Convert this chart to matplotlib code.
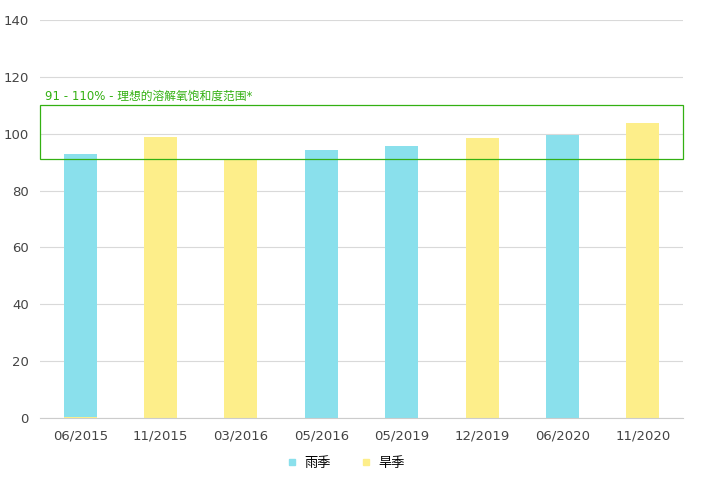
import numpy as np
import matplotlib
matplotlib.use("Agg")
import matplotlib.pyplot as plt
from matplotlib.patches import Rectangle
from matplotlib.lines import Line2D

plt.rcParams['font.family'] = ['DejaVu Sans', 'Noto Sans CJK SC']

# 数据
dates = ["06/2015", "11/2015", "03/2016", "05/2016", "05/2019", "12/2019", "06/2020", "11/2020"]
rainy = [93, 0, 0, 94.3, 95.7, 0, 99.6, 0]
dry = [0.4, 98.8, 91, 0, 0, 98.5, 0, 103.8]
range_low = 91
range_high = 110
range_label = "91 - 110% - 理想的溶解氧饱和度范围*"
series_names = ["雨季", "旱季"]

c_rain = "#8ae0ec"
c_dry = "#fdee8a"
c_green = "#33b012"

fig = plt.figure(figsize=(7.02, 4.98), dpi=100)
ax = fig.add_axes([40 / 702, 80 / 498, 643 / 702, 398 / 498])

x = np.arange(len(dates))
ax.bar(x, rainy, width=0.41, color=c_rain, zorder=2)
ax.bar(x, dry, width=0.41, color=c_dry, zorder=2.1)

ax.set_xlim(-0.5, len(dates) - 0.5)
ax.set_ylim(0, 140)
ax.set_yticks(np.arange(0, 141, 20))
ax.set_xticks(x)
ax.set_xticklabels(dates)
ax.grid(axis="y", color="#d9d9d9", linewidth=0.8, zorder=0)
ax.set_axisbelow(True)
for s in ["top", "right", "left"]:
    ax.spines[s].set_visible(False)
ax.spines["bottom"].set_color("#cccccc")
ax.tick_params(axis="both", length=0, colors="#444444", labelsize=9.5)
ax.tick_params(axis="x", pad=8)
ax.tick_params(axis="y", pad=8)

# 理想范围
rect = Rectangle((-0.5, range_low), len(dates), range_high - range_low,
                 fill=False, edgecolor=c_green, linewidth=0.9, zorder=3,
                 clip_on=False)
ax.add_patch(rect)
ax.text(-0.44, range_high + 3.2, range_label, color=c_green, fontsize=8.5,
        va="center", ha="left",
        family=['DejaVu Sans', 'Noto Sans CJK SC'])

handles = [Line2D([], [], marker="s", linestyle="", color=c_rain, markersize=5),
           Line2D([], [], marker="s", linestyle="", color=c_dry, markersize=5)]
fig.legend(handles, series_names, loc="center", bbox_to_anchor=(346 / 702, 1 - 463 / 498),
           ncol=2, frameon=False, handlelength=0.8, handletextpad=0.5, columnspacing=2.3,
           prop={'family': ['Noto Sans CJK SC'], 'size': 9.5})

plt.savefig("out.png", dpi=100)
